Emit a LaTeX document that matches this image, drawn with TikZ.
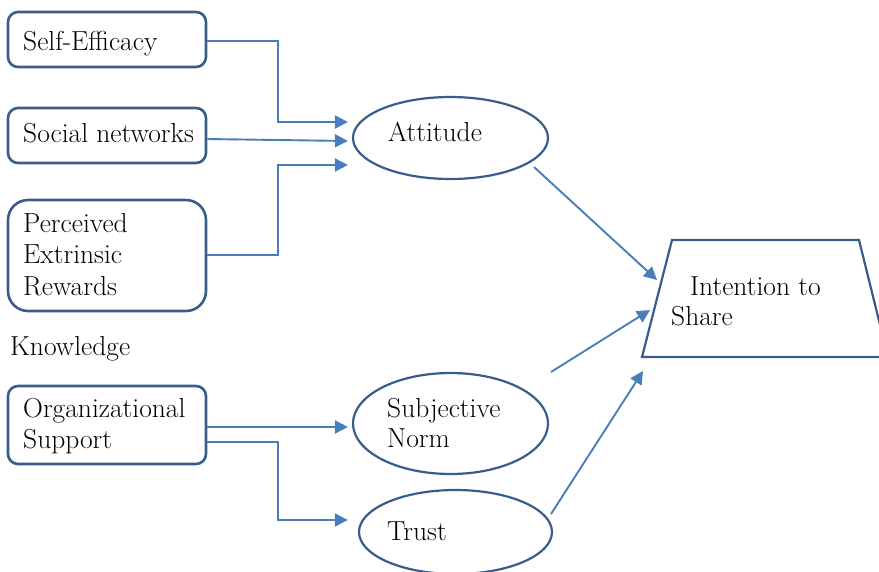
\documentclass[tikz,border=0pt]{standalone}
\usetikzlibrary{shapes.geometric,arrows.meta,calc}
\definecolor{outline}{HTML}{385D8A}
\definecolor{linkblue}{HTML}{4A7EBB}
\begin{document}
\begin{tikzpicture}[x=1pt,y=-1pt,
  box/.style={draw=outline,line width=2.6pt,rounded corners=10pt,inner sep=0pt,minimum width=198pt},
  oval/.style={draw=outline,ellipse,line width=2.2pt,inner sep=0pt},
  lbl/.style={anchor=base west,inner sep=0pt,font=\fontsize{27.5}{31}\selectfont},
  link/.style={draw=linkblue,line width=1.9pt,-{Triangle[length=13pt,width=13pt]}},
]
\useasboundingbox (0,0) rectangle (879,571);
\clip (0,0) rectangle (879,571);

% factor boxes on the left
\node[box,minimum height=55pt] (se) at (107,39.5) {};
\node[box,minimum height=55pt] (soc) at (107,135.5) {};
\node[box,minimum height=111pt,rounded corners=20pt] (per) at (107,255.5) {};
\node[box,minimum height=78pt] (org) at (107,425) {};

% mediating constructs
\node[oval,minimum width=195pt,minimum height=82pt] (att) at (450.5,138) {};
\node[oval,minimum width=195pt,minimum height=101pt] (sn) at (450.5,423.5) {};
\node[oval,minimum width=193pt,minimum height=84pt] (tr) at (455.5,532) {};

% outcome trapezium
\coordinate (tbl) at (642,357);
\coordinate (ttl) at (672,240);
\coordinate (ttr) at (859,240);
\coordinate (tbr) at (888,357);
\draw[outline,line width=2.2pt] (tbl) -- (ttl) -- (ttr) -- (tbr) -- cycle;

% labels
\node[lbl] (tse) at (23,50) {Self-Efficacy};
\node[lbl] (tsoc) at (23,142) {Social networks};
\node[lbl] (tper1) at (23,232) {Perceived};
\node[lbl] (tper2) at (23,263) {Extrinsic};
\node[lbl] (tper3) at (23,295) {Rewards};
\node[lbl] (tkn) at (10,355) {Knowledge};
\node[lbl] (torg1) at (23,417) {Organizational};
\node[lbl] (torg2) at (23,448) {Support};
\node[lbl] (tatt) at (388,141) {Attitude};
\node[lbl] (tsn1) at (387,417) {Subjective};
\node[lbl] (tsn2) at (387,447) {Norm};
\node[lbl] (ttrust) at (387,540) {Trust};
\node[lbl] (tin1) at (690,295) {Intention to};
\node[lbl] (tin2) at (671,325) {Share};

% arrow end points
\coordinate (a1) at ($(att.west)+(-4,-16)$);
\coordinate (a2) at ($(att.west)+(-4,3)$);
\coordinate (a3) at ($(att.west)+(-4,27)$);
\coordinate (b1) at ($(sn.west)+(-4,3.5)$);
\coordinate (b2) at ($(tr.west)+(-10,-12)$);
\coordinate (s1) at ($(att.center)+(83.5,29)$);
\coordinate (s2) at ($(sn.center)+(100.5,-51.5)$);
\coordinate (s3) at ($(tr.center)+(95.5,-18)$);
\coordinate (e1) at (657,280);
\coordinate (e2) at (650,310);
\coordinate (e3) at (643,371);

% connectors
\draw[link] ($(se.east)+(0,1.5)$) -- ++(71,0) |- (a1);
\draw[link] ($(soc.east)+(0,3.5)$) -- (a2);
\draw[link] ($(per.east)+(0,-0.5)$) -- ++(71,0) |- (a3);
\draw[link] ($(org.east)+(0,2)$) -- (b1);
\draw[link] ($(org.east)+(0,17)$) -- ++(71,0) |- (b2);
\draw[link] (s1) -- (e1);
\draw[link] (s2) -- (e2);
\draw[link] (s3) -- (e3);
\end{tikzpicture}
\end{document}
